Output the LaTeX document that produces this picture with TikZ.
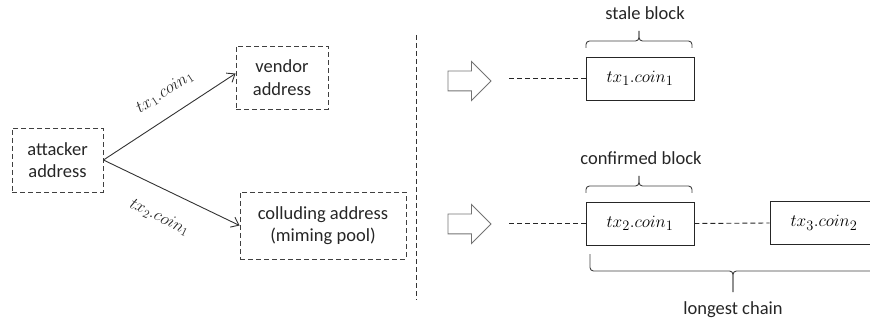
\documentclass[tikz,border=0pt]{standalone}
\usepackage{fontspec}
\setmainfont{Carlito}
\usetikzlibrary{arrows.meta,shapes.arrows}

\begin{document}
\begin{tikzpicture}[x=1pt, y=-1pt, line width=0.9pt,
  txt/.style={font=\fontsize{18.5}{22.5}\selectfont, text=black!85},
  addr/.style={txt, draw=black!75, dash pattern=on 5pt off 3pt, align=center, inner sep=0pt},
  blk/.style={draw=black!85, minimum width=108pt, minimum height=43pt, inner sep=0pt, font=\fontsize{19}{22.5}\selectfont},
  send/.style={-{Straight Barb[length=7pt, width=11pt]}, black!80},
  link/.style={draw=black!85, dash pattern=on 5pt off 3pt},
  hollow/.style={single arrow, draw=black!55, minimum height=43pt, inner sep=9.5pt,
    single arrow head extend=9.5pt},
  brc/.style={black!75, rounded corners=3.5pt}]

\useasboundingbox (0,0) rectangle (870,323);
\clip (0,0) rectangle (870,323);

% Addresses
\node[addr, minimum width=91pt, minimum height=64pt] (attacker) at (57.5,160) {attacker\\address};
\node[addr, minimum width=92pt, minimum height=63pt] (vendor) at (282,77.5) {vendor\\address};
\node[addr, minimum width=166pt, minimum height=67pt] (colluding) at (323,225.5) {colluding address\\(miming pool)};

% The two spends
\draw[send] (attacker.east) -- ([yshift=4pt]vendor.west)
  node[pos=0.56, sloped, above=12.5pt, txt] (spend1) {$tx_1.coin_1$};
\draw[send] (attacker.east) -- (colluding.west)
  node[pos=0.5, sloped, below=16.5pt, txt] (spend2) {$tx_2.coin_1$};

% Separator
\coordinate (septop) at (416,35);
\coordinate (sepbot) at (416,300);
\draw[dash pattern=on 5pt off 3pt, black!80] (septop) -- (sepbot);

% Hollow arrows
\node[hollow] (harrow1) at (464.5,81) {};
\node[hollow] (harrow2) at (464.5,224) {};

% Stale branch
\node[blk] (stale) at (640,78.5) {$tx_1.coin_1$};
\coordinate (tail1) at (509,78.5);
\draw[link] (tail1) -- (stale.west);
\draw[brc] (586,48) |- (639,41) -- (639,31);
\draw[brc] (692,48) |- (639,41) -- (639,31);
\node[txt] (stalelbl) at (645,13) {stale block};

% Longest chain
\node[blk] (confirmed) at (640,223.5) {$tx_2.coin_1$};
\node[blk] (next) at (824,223) {$tx_3.coin_2$};
\coordinate (tail2) at (509,223.5);
\draw[link] (tail2) -- (confirmed.west);
\draw[link] (confirmed.east) -- (next.west);
\draw[brc] (586,193) |- (639,186) -- (639,176);
\draw[brc] (692,193) |- (639,186) -- (639,176);
\node[txt] (confirmedlbl) at (641,158) {confirmed block};

\draw[brc] (590,254) |- (733,271) -- (733,292);
\draw[brc] (876,254) |- (733,271) -- (733,292);
\node[txt] (chainlbl) at (733,310) {longest chain};

\end{tikzpicture}
\end{document}
